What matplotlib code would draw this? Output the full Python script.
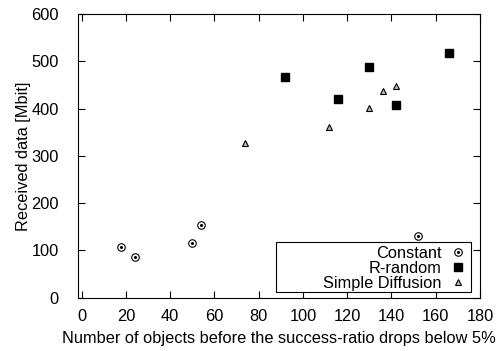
import matplotlib.pyplot as plt
from matplotlib.legend_handler import HandlerTuple
from matplotlib.patches import Rectangle

plt.rcParams['font.family'] = ['Liberation Sans', 'DejaVu Sans']

# data
const_x = [18, 24, 50, 54, 152]
const_y = [108, 85, 115, 153, 130]
rrand_x = [92, 116, 130, 142, 166]
rrand_y = [466, 420, 487, 408, 517]
diff_x = [74, 112, 130, 136, 142]
diff_y = [327, 362, 402, 438, 448]

xticks = list(range(0, 181, 20))
yticks = list(range(0, 601, 100))

fs = 11.8

fig = plt.figure(figsize=(4.99, 3.51), dpi=100)
ax = fig.add_axes([0.1557, 0.152, 0.806, 0.808])

c1, = ax.plot(const_x, const_y, 'o', ms=5.4, mfc='white', mec='black', mew=0.8, ls='none')
c2, = ax.plot(const_x, const_y, 'o', ms=1.2, mfc='black', mec='black', ls='none')
r, = ax.plot(rrand_x, rrand_y, 's', ms=5.3, mfc='black', mec='black', ls='none')
d, = ax.plot(diff_x, diff_y, '^', ms=5.0, mfc='#b8b8b8', mec='black', mew=0.8, ls='none')

ax.set_xlim(-1.8, 180)
ax.set_ylim(0, 600)
ax.set_xticks(xticks)
ax.set_yticks(yticks)
ax.tick_params(direction='in', top=True, right=True, length=5, labelsize=fs)
ax.tick_params(axis='y', pad=13.5)
ax.tick_params(axis='x', pad=8)
ax.set_xlabel('Number of objects before the success-ratio drops below 5%', fontsize=fs, labelpad=5)
ax.set_ylabel('Received data [Mbit]', fontsize=fs, labelpad=0.5)

# legend box drawn separately (gnuplot-style wide key box)
box = Rectangle((0.493, 0.02), 0.485, 0.176, transform=ax.transAxes,
                facecolor='white', edgecolor='black', lw=0.8, zorder=5)
ax.add_patch(box)

leg = ax.legend([(c1, c2), r, d], ['Constant', 'R-random', 'Simple Diffusion'],
                handler_map={tuple: HandlerTuple(ndivide=1)},
                loc='lower right', bbox_to_anchor=(0.975, 0.012), borderaxespad=0,
                markerfirst=False, frameon=False, fontsize=fs, handlelength=1.0,
                labelspacing=0.0, borderpad=0.2, handletextpad=0.5)
leg.set_zorder(6)

fig.savefig('out.png', dpi=100)
